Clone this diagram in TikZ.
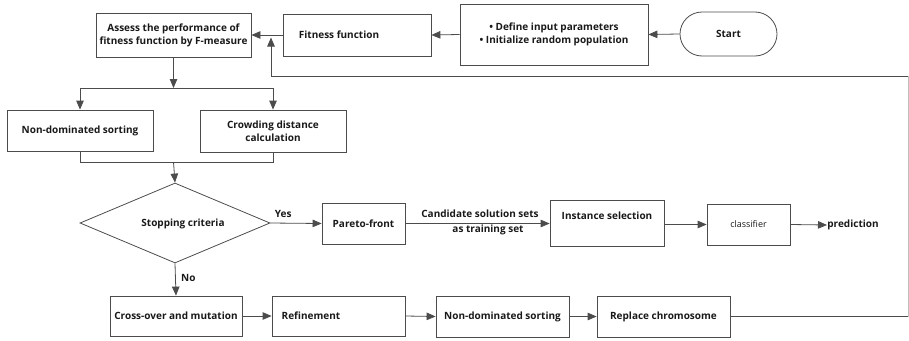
\documentclass[tikz,border=0pt]{standalone}
\usepackage{fontspec}
\setmainfont{Open Sans}
\usetikzlibrary{shapes.geometric,shapes.misc,arrows.meta,calc}
\begin{document}
\begin{tikzpicture}[x=1pt,y=-1pt,
  line width=0.8pt,
  every node/.style={font=\fontsize{10}{13}\selectfont\bfseries, text=black!90},
  box/.style={draw=black!70, rectangle, inner sep=0pt, align=center},
  conn/.style={draw=black!70},
  arr/.style={draw=black!70, -{Triangle[length=9pt,width=7.5pt]}}]
\useasboundingbox (0,0) rectangle (909,340);
% top row
\node[box, minimum width=155pt, minimum height=44pt] (assess) at (173.5,35) {Assess the performance of\\fitness function by F-measure};
\node[box, minimum width=148pt, minimum height=42pt] (fit) at (357,35) {};
\node (fitT) at (339,35) {Fitness function};
\node[box, minimum width=188pt, minimum height=61pt] (def) at (554,34.5) {\textbullet\ Define input parameters\\\textbullet\ Initialize random population};
\node[draw=black!70, rounded rectangle, minimum width=97pt, minimum height=44pt, inner sep=0pt] (start) at (728.5,34) {Start};
\draw[arr] (start.west) -- (def.east);
\draw[arr] (def.west) -- (fit.east);
\draw[arr] (fit.west) -- (assess.east);
% feedback
\coordinate (fbR) at (908,76);
\coordinate (fbUp) at (271,37.5);
\draw[arr] (fbR) -- (271,76) -- (fbUp);
% split
\coordinate (split) at (173.5,88);
\draw[arr] (assess.south) -- (split);
\node[box, minimum width=146pt, minimum height=41pt] (nds) at (80,130.5) {Non-dominated sorting};
\node[box, minimum width=146pt, minimum height=42pt] (crowd) at (273,131) {Crowding distance\\calculation};
\draw[conn] (80,88) -- (273,88);
\draw[arr] (80,88) -- (nds.north);
\draw[arr] (273,88) -- (crowd.north);
% merge
\coordinate (merge) at (173.5,162);
\draw[conn] (nds.south) -- (80,162) -- (273,162) -- (crowd.south);
\node[draw=black!70, diamond, minimum width=190pt, minimum height=80pt, inner sep=0pt] (stop) at (175,223) {};
\node (stopT) at (183,224) {Stopping criteria};
\draw[arr] (merge) -- (stop.north);
% yes branch
\node[box, minimum width=83pt, minimum height=41pt] (pareto) at (363.5,223.5) {Pareto-front};
\draw[arr] (stop.east) -- (pareto.west) node[pos=0.25, above=2pt] (yes) {Yes};
\node[box, minimum width=114pt, minimum height=46pt] (inst) at (607,223) {};
\node (instT) at (607,216) {Instance selection};
\draw[arr] (pareto.east) -- (inst.west |- pareto.east);
\node (cand1) at (480,214) {Candidate solution sets};
\node (cand2) at (488,230) {as training set};
\node[box, minimum width=83pt, minimum height=41pt] (cls) at (748.5,224.5) {\fontsize{9}{11}\selectfont\mdseries classifier};
\draw[arr] (inst.east |- cls.west) -- (cls.west);
\node[anchor=west, inner sep=0pt] (pred) at (827,225) {prediction};
\draw[arr] (cls.east) -- (pred.west);
% no branch
\node[box, minimum width=132pt, minimum height=40pt] (cross) at (176,316) {Cross-over and mutation};
\draw[arr] (stop.south) -- (cross.north) node[pos=0.45, right=2pt] (no) {No};
\node[box, minimum width=133pt, minimum height=40pt] (refine) at (338.5,316) {};
\node (refT) at (311,316) {Refinement};
\node[box, minimum width=133pt, minimum height=41pt] (nds2) at (502.5,316.5) {Non-dominated sorting};
\node[box, minimum width=133pt, minimum height=41pt] (repl) at (663.5,316.5) {Replace chromosome};
\draw[arr] (cross.east) -- (refine.west);
\draw[arr] (refine.east) -- (nds2.west);
\draw[arr] (nds2.east) -- (repl.west);
\coordinate (brR) at (908,316.5);
\draw[conn] (repl.east) -- (brR);
\draw[draw=black!25, line width=0.6pt] (brR) -- (fbR);
\end{tikzpicture}
\end{document}
